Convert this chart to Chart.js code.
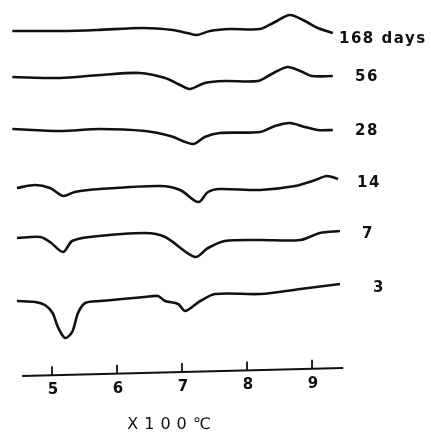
<!DOCTYPE html>
<html>
<head>
<meta charset="utf-8">
<script src="https://cdn.jsdelivr.net/npm/chart.js@4/dist/chart.umd.min.js"></script>
<style>
  html, body { margin: 0; padding: 0; background: #fff; }
  #wrap { width: 431px; height: 441px; }
</style>
</head>
<body>
<div id="wrap"><canvas id="dta" width="431" height="441"></canvas></div>
<script>
// DTA curves after different curing ages, temperature in units of 100 °C,
// deflection in arbitrary units (up = exothermic)
const ageLabels = ['168 days', '56', '28', '14', '7', '3'];

const temps168 = [4.39, 5.12, 5.69, 6.40, 6.86, 7.08, 7.23, 7.43, 7.74, 8.20, 8.43, 8.66, 8.89, 9.09, 9.32];
const dta168   = [0.0,  0.0,  0.1,  0.3,  0.1, -0.2, -0.4,  0.0,  0.2,  0.2,  0.9,  1.6,  1.0,  0.3, -0.2];

const temps56 = [4.39, 5.12, 5.74, 6.35, 6.74, 6.97, 7.12, 7.35, 7.66, 8.17, 8.38, 8.62, 8.82, 9.00, 9.32];
const dta56   = [0.0, -0.1,  0.2,  0.4, -0.1, -0.8, -1.2, -0.6, -0.4, -0.4,  0.3,  1.0,  0.6,  0.1,  0.1];

const temps28 = [4.39, 5.12, 5.74, 6.43, 6.82, 7.17, 7.35, 7.58, 8.20, 8.43, 8.66, 8.89, 9.09, 9.32];
const dta28   = [0.0, -0.2,  0.0, -0.2, -0.7, -1.5, -0.8, -0.4, -0.3,  0.3,  0.6,  0.2, -0.1, -0.1];

const temps14 = [4.46, 4.74, 4.97, 5.17, 5.35, 5.74, 6.66, 6.97, 7.25, 7.40, 7.58, 8.20, 8.74, 9.05, 9.23, 9.40];
const dta14   = [0.0,  0.3,  0.0, -0.8, -0.4, -0.1,  0.2, -0.2, -1.4, -0.4, -0.1, -0.2,  0.2,  0.8,  1.2,  0.9];

const temps7 = [4.46, 4.82, 4.97, 5.17, 5.31, 5.58, 6.43, 6.74, 7.20, 7.40, 7.66, 8.20, 8.82, 9.12, 9.43];
const dta7   = [0.0,  0.1, -0.4, -1.4, -0.3,  0.1,  0.5,  0.1, -1.9, -1.0, -0.3, -0.2, -0.2,  0.5,  0.7];

const temps3 = [4.46, 4.74, 4.89, 5.01, 5.09, 5.20, 5.31, 5.40, 5.51, 5.74, 6.43, 6.63, 6.74, 6.94, 7.05, 7.28, 7.51, 8.20, 8.82, 9.43];
const dta3   = [0.0, -0.1, -0.4, -1.2, -2.6, -3.7, -3.1, -1.2, -0.2,  0.0,  0.4,  0.5,  0.0, -0.3, -1.0,  0.0,  0.7,  0.7,  1.2,  1.7];

// vertical spacing of the stacked curves
const curveOffsets = [41.0, 36.4, 31.2, 25.3, 20.3, 14.0];

const tickValues = [5, 6, 7, 8, 9];
const tickLabels = ['5', '6', '7', '8', '9'];
const axisTitle = 'X100℃';

const allTemps = [temps168, temps56, temps28, temps14, temps7, temps3];
const allDta   = [dta168, dta56, dta28, dta14, dta7, dta3];

const datasets = ageLabels.map((name, i) => ({
  label: name,
  data: allTemps[i].map((t, k) => ({ x: t, y: allDta[i][k] + curveOffsets[i] })),
  borderColor: '#111',
  borderWidth: 2.6,
  pointRadius: 0,
  tension: 0.3,
  fill: false,
}));

// hand-drawn style labels next to each curve + baseline temperature axis
const labelPos = [
  { x: 339, y: 39 }, { x: 355, y: 77 }, { x: 355, y: 131 },
  { x: 357, y: 183 }, { x: 362, y: 234 }, { x: 373, y: 288 },
];

const annotatePlugin = {
  id: 'annotate',
  afterDatasetsDraw(chart) {
    const ctx = chart.ctx;
    const xs = chart.scales.x;
    const ys = chart.scales.y;
    ctx.save();
    ctx.fillStyle = '#111';
    ctx.strokeStyle = '#111';
    ctx.textBaseline = 'middle';
    ctx.textAlign = 'left';
    ctx.font = 'bold 15px "DejaVu Sans"';
    ctx.letterSpacing = '1.5px';
    ageLabels.forEach((txt, i) => {
      ctx.fillText(txt, labelPos[i].x, labelPos[i].y);
    });

    // axis line, drawn slightly slanted as in the original plot
    const axisY = t => ys.getPixelForValue(6.5 + (t - 4.54) * (0.8 / 4.94));
    ctx.lineWidth = 2.2;
    ctx.beginPath();
    ctx.moveTo(xs.getPixelForValue(4.54), axisY(4.54));
    ctx.lineTo(xs.getPixelForValue(9.48), axisY(9.48));
    ctx.stroke();

    ctx.textAlign = 'center';
    ctx.font = 'bold 15px "DejaVu Sans"';
    ctx.letterSpacing = '0px';
    ctx.lineWidth = 1.8;
    tickValues.forEach((v, i) => {
      const px = xs.getPixelForValue(v);
      const py = axisY(v);
      ctx.beginPath();
      ctx.moveTo(px, py);
      ctx.lineTo(px, py - 9);
      ctx.stroke();
      ctx.fillText(tickLabels[i], px + 1, py + 15);
    });

    ctx.font = '16px "DejaVu Sans"';
    ctx.letterSpacing = '6px';
    ctx.fillText(axisTitle, 172, 425);
    ctx.restore();
  }
};

new Chart(document.getElementById('dta'), {
  type: 'line',
  data: { datasets },
  options: {
    responsive: false,
    animation: false,
    layout: { padding: 0 },
    plugins: { legend: { display: false }, tooltip: { enabled: false } },
    scales: {
      x: { type: 'linear', display: false, min: 4.2, max: 10.83 },
      y: { display: false, min: 0, max: 44.1 },
    },
  },
  plugins: [annotatePlugin],
});
</script>
</body>
</html>
